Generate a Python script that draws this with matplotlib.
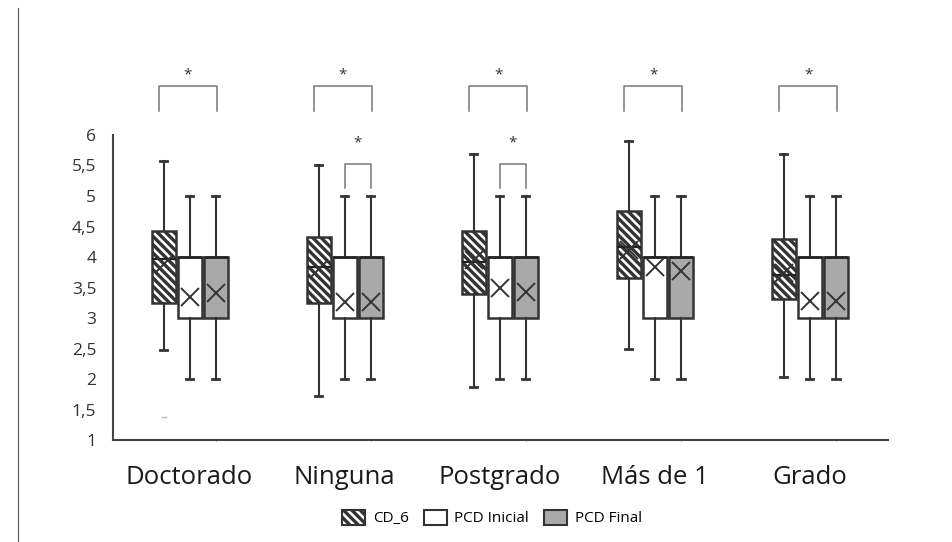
import matplotlib
matplotlib.use("Agg")
import matplotlib.pyplot as plt
from matplotlib.patches import Patch
from matplotlib.lines import Line2D
from matplotlib.ticker import FuncFormatter, MultipleLocator

plt.rcParams["font.family"] = ["Open Sans", "DejaVu Sans"]
plt.rcParams["hatch.linewidth"] = 2.4
plt.rcParams["hatch.color"] = "#1e1e1e"

groups = ["Doctorado", "Ninguna", "Postgrado", "Más de 1", "Grado"]
series = ["CD_6", "PCD Inicial", "PCD Final"]

# CD_6 box statistics per group
cd6_whislo = [2.48, 1.72, 1.87, 2.49, 2.03]
cd6_q1 = [3.25, 3.25, 3.39, 3.66, 3.31]
cd6_med = [3.97, 3.84, 3.92, 4.17, 3.70]
cd6_q3 = [4.42, 4.33, 4.43, 4.75, 4.30]
cd6_whishi = [5.57, 5.50, 5.69, 5.90, 5.69]
cd6_mean = [3.89, 3.80, 3.95, 4.12, 3.73]
cd6_fliers = [[1.38], [], [], [], []]

# PCD Inicial / PCD Final share the same quartiles
pcd_whislo = [2, 2, 2, 2, 2]
pcd_q1 = [3, 3, 3, 3, 3]
pcd_med = [4, 4, 4, 4, 4]
pcd_q3 = [4, 4, 4, 4, 4]
pcd_whishi = [5, 5, 5, 5, 5]
ini_mean = [3.35, 3.27, 3.49, 3.83, 3.28]
fin_mean = [3.41, 3.27, 3.43, 3.77, 3.28]

# significance brackets: outer = CD_6 vs PCD Final, inner = PCD Inicial vs PCD Final
outer_sig = [True, True, True, True, True]
inner_sig = [False, True, True, False, False]


def make_stats(whislo, q1, med, q3, whishi, mean, fliers=None):
    out = []
    for i in range(len(whislo)):
        out.append({
            "whislo": whislo[i], "q1": q1[i], "med": med[i], "q3": q3[i],
            "whishi": whishi[i], "mean": mean[i],
            "fliers": fliers[i] if fliers else [],
        })
    return out


stats = [
    make_stats(cd6_whislo, cd6_q1, cd6_med, cd6_q3, cd6_whishi, cd6_mean, cd6_fliers),
    make_stats(pcd_whislo, pcd_q1, pcd_med, pcd_q3, pcd_whishi, ini_mean),
    make_stats(pcd_whislo, pcd_q1, pcd_med, pcd_q3, pcd_whishi, fin_mean),
]

HATCH = "\\" * 4
fills = ["white", "white", "#a9a9a9"]
hatches = [HATCH, None, None]
offsets = [-0.168, 0.0, 0.168]
edge = "#333333"

fig = plt.figure(figsize=(9.52, 5.42), dpi=100)
ax = fig.add_axes([0.1187, 0.188, 0.8141, 0.563])

for s in range(3):
    pos = [g + offsets[s] for g in range(len(groups))]
    ax.bxp(
        stats[s], positions=pos, widths=0.155, patch_artist=True,
        showmeans=True, showfliers=True,
        boxprops=dict(facecolor=fills[s], edgecolor=edge, linewidth=1.8, hatch=hatches[s]),
        medianprops=dict(color="#222222", linewidth=1.6 if s == 0 else 1.8),
        whiskerprops=dict(color=edge, linewidth=1.5),
        capprops=dict(color=edge, linewidth=2.0),
        capwidths=0.05,
        meanprops=dict(marker="x", markersize=13, markeredgewidth=1.4,
                       markeredgecolor="#333333"),
        flierprops=dict(marker="_", markersize=4, markeredgecolor="#bbbbbb"),
        manage_ticks=False,
    )

# brackets with asterisks
br_col = "#777777"
for g in range(len(groups)):
    if outer_sig[g]:
        x0, x1 = g + offsets[0] - 0.03, g + offsets[2] + 0.01
        ax.plot([x0, x0, x1, x1], [6.39, 6.80, 6.80, 6.39], color=br_col,
                lw=1.1, clip_on=False)
        ax.text((x0 + x1) / 2, 6.98, "*", ha="center", va="center",
                fontsize=11, color="#333333", clip_on=False)
    if inner_sig[g]:
        x0, x1 = g + offsets[1], g + offsets[2]
        ax.plot([x0, x0, x1, x1], [5.13, 5.52, 5.52, 5.13], color=br_col,
                lw=1.1, clip_on=False)
        ax.text((x0 + x1) / 2, 5.87, "*", ha="center", va="center",
                fontsize=11, color="#333333", clip_on=False)

ax.set_xlim(-0.494, 4.506)
ax.set_ylim(1, 6)
ax.yaxis.set_major_locator(MultipleLocator(0.5))
ax.yaxis.set_major_formatter(FuncFormatter(lambda v, p: f"{v:g}".replace(".", ",")))
ax.set_xticks(range(len(groups)))
ax.set_xticklabels(groups, fontsize=18.5, color="#1a1a1a")
ax.set_xticks([g + o for g in range(len(groups)) for o in (0.0, offsets[2])], minor=True)
ax.tick_params(axis="x", which="major", length=0, pad=18)
ax.tick_params(axis="x", which="minor", length=2, direction="inout", color="#555555")
ax.tick_params(axis="y", length=0, pad=12, labelsize=12.5, labelcolor="#333333")

for side in ["top", "right"]:
    ax.spines[side].set_visible(False)
for side in ["left", "bottom"]:
    ax.spines[side].set_color("#444444")
    ax.spines[side].set_linewidth(1.5)

# thin frame line at the left edge of the image
fig.add_artist(Line2D([0.019, 0.019], [0.0, 0.985], color="#555555", lw=0.8))

handles = [
    Patch(facecolor="white", edgecolor=edge, hatch=HATCH, linewidth=1.5),
    Patch(facecolor="white", edgecolor=edge, linewidth=1.5),
    Patch(facecolor="#a9a9a9", edgecolor=edge, linewidth=1.5),
]
fig.legend(handles, series, loc="center", bbox_to_anchor=(0.517, 1 - 518 / 542),
           ncol=3, frameon=False, fontsize=11, handlelength=1.5, handleheight=1.2,
           columnspacing=1.0, handletextpad=0.5)

fig.savefig("out.png", dpi=100)
